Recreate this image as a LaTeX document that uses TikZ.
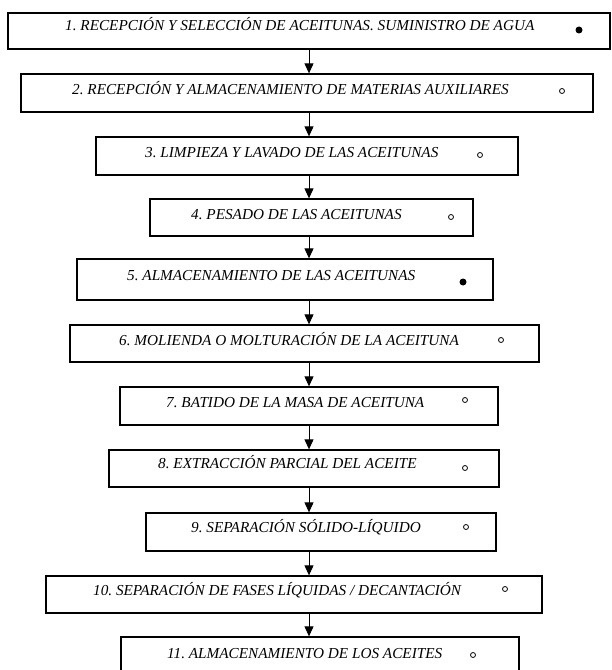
\documentclass[tikz,border=0pt]{standalone}
\usepackage{fontspec}
\setmainfont{Liberation Serif}
\usepackage{tikz}
\usetikzlibrary{positioning,arrows.meta}
\frenchspacing
\tikzset{
    every node/.style={
        font=\fontsize{15.3pt}{18pt}\selectfont\itshape
    },
    flecha/.style={
        -{Triangle[length=10bp,width=9bp]},
        line width=1bp
    }
}
\tikzstyle{etapa} = [rectangle, draw, line width=1.3bp, inner sep=0pt]

\begin{document}
\begin{tikzpicture}[
			x=1bp, y=-1bp,
			paso/.style={anchor=base west, inner sep=0pt},
			lleno/.style={circle, fill, inner sep=0pt, minimum size=7bp},
			vacio/.style={circle, draw, line width=0.8bp, inner sep=0pt, minimum size=5bp}
			]
			\useasboundingbox (0, 0) rectangle (612, 670);
			\coordinate (eje) at (309, 0);
			
			\node (rs) at (309, 31) [etapa, minimum width=602bp, minimum height=36bp] {};
			\node (rs-t) at (65, 31) [paso] {1. RECEPCIÓN Y SELECCIÓN DE ACEITUNAS. SUMINISTRO DE AGUA};
			\node (rs-m) at (579, 30) [lleno] {};
			
			\node (ra) at (307, 93) [etapa, minimum width=572bp, minimum height=38bp] {};
			\node (ra-t) at (72, 95) [paso] {2. RECEPCIÓN Y ALMACENAMIENTO DE MATERIAS AUXILIARES};
			\node (ra-m) at (562, 91) [vacio] {};
			
			\node (ll) at (307, 156) [etapa, minimum width=422bp, minimum height=38bp] {};
			\node (ll-t) at (145, 157) [paso] {3. LIMPIEZA Y LAVADO DE LAS ACEITUNAS};
			\node (ll-m) at (480, 155) [vacio] {};
			
			\node (pe) at (311.5, 217.5) [etapa, minimum width=323bp, minimum height=37bp] {};
			\node (pe-t) at (191, 219) [paso] {4. PESADO DE LAS ACEITUNAS};
			\node (pe-m) at (451, 217) [vacio] {};
			
			\node (al) at (285, 279.5) [etapa, minimum width=416bp, minimum height=41bp] {};
			\node (al-t) at (127, 280) [paso] {5. ALMACENAMIENTO DE LAS ACEITUNAS};
			\node (al-m) at (463, 282) [lleno] {};
			
			\node (mo) at (304.5, 343.5) [etapa, minimum width=469bp, minimum height=37bp] {};
			\node (mo-t) at (119, 345) [paso] {6. MOLIENDA O MOLTURACIÓN DE LA ACEITUNA};
			\node (mo-m) at (501, 340) [vacio] {};
			
			\node (ba) at (309, 406) [etapa, minimum width=378bp, minimum height=38bp] {};
			\node (ba-t) at (166, 407) [paso] {7. BATIDO DE LA MASA DE ACEITUNA};
			\node (ba-m) at (465, 400) [vacio] {};
			
			\node (ex) at (304, 468.5) [etapa, minimum width=390bp, minimum height=37bp] {};
			\node (ex-t) at (158, 468) [paso] {8. EXTRACCIÓN PARCIAL DEL ACEITE};
			\node (ex-m) at (465, 468) [vacio] {};
			
			\node (ss) at (321, 532) [etapa, minimum width=350bp, minimum height=38bp] {};
			\node (ss-t) at (191, 532) [paso] {9. SEPARACIÓN SÓLIDO-LÍQUIDO};
			\node (ss-m) at (466, 527) [vacio] {};
			
			\node (sf) at (294, 594.5) [etapa, minimum width=496bp, minimum height=37bp] {};
			\node (sf-t) at (93, 595) [paso] {10. SEPARACIÓN DE FASES LÍQUIDAS / DECANTACIÓN};
			\node (sf-m) at (505, 589) [vacio] {};
			
			\node (aa) at (320, 658.5) [etapa, minimum width=398bp, minimum height=43bp] {};
			\node (aa-t) at (167, 658) [paso] {11. ALMACENAMIENTO DE LOS ACEITES};
			\node (aa-m) at (473, 655) [vacio] {};
			
			\draw [flecha] (rs.south -| eje) -- (ra.north -| eje);
			\draw [flecha] (ra.south -| eje) -- (ll.north -| eje);
			\draw [flecha] (ll.south -| eje) -- (pe.north -| eje);
			\draw [flecha] (pe.south -| eje) -- (al.north -| eje);
			\draw [flecha] (al.south -| eje) -- (mo.north -| eje);
			\draw [flecha] (mo.south -| eje) -- (ba.north -| eje);
			\draw [flecha] (ba.south -| eje) -- (ex.north -| eje);
			\draw [flecha] (ex.south -| eje) -- (ss.north -| eje);
			\draw [flecha] (ss.south -| eje) -- (sf.north -| eje);
			\draw [flecha] (sf.south -| eje) -- (aa.north -| eje);
		\end{tikzpicture}
\end{document}
